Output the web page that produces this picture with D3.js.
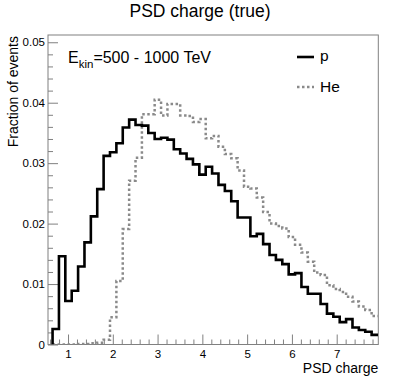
<!DOCTYPE html>
<html>
<head>
<meta charset="utf-8">
<script src="https://cdn.jsdelivr.net/npm/d3@7/dist/d3.min.js"></script>
<style>
  body { margin: 0; background: #fff; }
  text { font-family: "Liberation Sans", Arial, Helvetica, sans-serif; fill: #000; }
</style>
</head>
<body>
<div id="chart"></div>
<script>
// histogram binning (PSD charge)
var binStart = 0.655;
var binWidth = 0.1425;

// fraction of events per bin, proton
var protonFrac = [0.00256, 0.0146, 0.0072, 0.0089, 0.0129, 0.0169, 0.0212, 0.0257, 0.0312, 0.0318,
  0.0333, 0.0359, 0.0372, 0.0363, 0.0362, 0.0350, 0.0340, 0.0342, 0.0339, 0.0323,
  0.0316, 0.0307, 0.0298, 0.0281, 0.0294, 0.0283, 0.0264, 0.0254, 0.0237, 0.0210,
  0.0210, 0.0179, 0.0183, 0.0166, 0.0148, 0.0140, 0.0133, 0.0116, 0.0118, 0.0095,
  0.0084, 0.0084, 0.0067, 0.0051, 0.0046, 0.0037, 0.0042, 0.0028, 0.0024, 0.0021, 0.0016];

// fraction of events per bin, helium
var heliumFrac = [0, 0, 0, 0, 0.0001, 0.0001, 0.0002, 0.0003, 0.0008, 0.0045,
  0.0105, 0.0191, 0.0271, 0.0309, 0.0381, 0.0381, 0.0405, 0.0379, 0.0398, 0.0398,
  0.0379, 0.0378, 0.0368, 0.0373, 0.0341, 0.0345, 0.0327, 0.0315, 0.0308, 0.0288,
  0.0261, 0.0258, 0.0243, 0.0219, 0.0200, 0.0196, 0.0192, 0.0178, 0.0165, 0.0152,
  0.0137, 0.0119, 0.0115, 0.0098, 0.0092, 0.0087, 0.0079, 0.0071, 0.0063, 0.0057, 0.0047];

var xTicks = [1, 2, 3, 4, 5, 6, 7];
var yTicks = [0, 0.01, 0.02, 0.03, 0.04, 0.05];
var seriesNames = ["p", "He"];

var width = 399, height = 388;
var margin = { top: 35, right: 20.7, bottom: 43.5, left: 48 };
var inner_width = width - margin.left - margin.right;
var inner_height = height - margin.top - margin.bottom;

var root = d3.select("#chart").append("svg")
  .attr("width", width)
  .attr("height", height);

var svg = root.append("g")
  .attr("transform", "translate(" + margin.left + "," + margin.top + ")");

var x = d3.scaleLinear().domain([0.553, 7.929]).range([0, inner_width]);
var y = d3.scaleLinear().domain([0, 0.0512]).range([inner_height, 0]);

svg.append("defs").append("clipPath")
  .attr("id", "clip")
  .append("rect")
  .attr("width", inner_width)
  .attr("height", inner_height);

// minor ticks
var xMinor = d3.range(3, 40).map(function(i) { return i / 5; }).filter(function(v) { return v % 1 !== 0; });
var yMinor = d3.range(1, 26).map(function(i) { return i * 0.002; }).filter(function(v) { return Math.round(v * 1000) % 10 !== 0; });

var xAxis = svg.append("g")
  .attr("transform", "translate(0," + inner_height + ")")
  .call(d3.axisBottom(x).tickValues(xTicks).tickSize(-10).tickPadding(5.8).tickFormat(d3.format("d")));
xAxis.select(".domain").remove();

var xAxisMinor = svg.append("g")
  .attr("transform", "translate(0," + inner_height + ")")
  .call(d3.axisBottom(x).tickValues(xMinor).tickSize(-5).tickFormat(""));
xAxisMinor.select(".domain").remove();

var yAxis = svg.append("g")
  .call(d3.axisLeft(y).tickValues(yTicks).tickSize(-10).tickPadding(3)
    .tickFormat(function(d) { return d === 0 ? "0" : d3.format(".2f")(d); }));
yAxis.select(".domain").remove();

var yAxisMinor = svg.append("g")
  .call(d3.axisLeft(y).tickValues(yMinor).tickSize(-5).tickFormat(""));
yAxisMinor.select(".domain").remove();

svg.selectAll(".tick line").attr("stroke", "#808080").attr("stroke-width", 1);
svg.selectAll(".tick text").style("font-size", "11.5px").attr("fill", "#000")
  .style("font-family", "'Liberation Sans', Arial, Helvetica, sans-serif");

// frame
svg.append("rect")
  .attr("width", inner_width)
  .attr("height", inner_height)
  .attr("fill", "none")
  .attr("stroke", "#808080")
  .attr("stroke-width", 1);

function histPoints(vals) {
  var pts = [[binStart, 0]];
  vals.forEach(function(v, i) { pts.push([binStart + i * binWidth, v]); });
  pts.push([binStart + vals.length * binWidth, vals[vals.length - 1]]);
  return pts;
}

var line = d3.line()
  .x(function(d) { return x(d[0]); })
  .y(function(d) { return y(d[1]); })
  .curve(d3.curveStepAfter);

var plot = svg.append("g").attr("clip-path", "url(#clip)");

plot.append("path")
  .datum(histPoints(heliumFrac))
  .attr("d", line)
  .attr("fill", "none")
  .attr("stroke", "#8a8a8a")
  .attr("stroke-width", 2.5)
  .attr("stroke-dasharray", "2.5,2.5");

plot.append("path")
  .datum(histPoints(protonFrac))
  .attr("d", line)
  .attr("fill", "none")
  .attr("stroke", "#000")
  .attr("stroke-width", 2.6)
  .attr("stroke-linejoin", "miter");

// legend
var legend = root.append("g");
legend.append("line").attr("x1", 297).attr("x2", 314).attr("y1", 57).attr("y2", 57)
  .attr("stroke", "#000").attr("stroke-width", 2.6);
legend.append("line").attr("x1", 297).attr("x2", 314).attr("y1", 87).attr("y2", 87)
  .attr("stroke", "#8a8a8a").attr("stroke-width", 2.5).attr("stroke-dasharray", "2.5,2.5");
legend.append("text").attr("x", 320).attr("y", 61).style("font-size", "15.5px").text(seriesNames[0]);
legend.append("text").attr("x", 320).attr("y", 92).style("font-size", "15.5px").text(seriesNames[1]);

// energy label
var ek = root.append("text").attr("x", 68).attr("y", 63).style("font-size", "16px");
ek.append("tspan").text("E");
ek.append("tspan").attr("dy", 5).style("font-size", "11.5px").text("kin");
ek.append("tspan").attr("dy", -5).text("=500 - 1000 TeV");

// titles
root.append("text")
  .attr("x", 200).attr("y", 17.3)
  .attr("text-anchor", "middle")
  .style("font-size", "17.5px")
  .text("PSD charge (true)");

root.append("text")
  .attr("x", 378.3).attr("y", 373)
  .attr("text-anchor", "end")
  .style("font-size", "14px")
  .text("PSD charge");

root.append("text")
  .attr("transform", "translate(18.3,36) rotate(-90)")
  .attr("text-anchor", "end")
  .style("font-size", "14px")
  .text("Fraction of events");
</script>
</body>
</html>
